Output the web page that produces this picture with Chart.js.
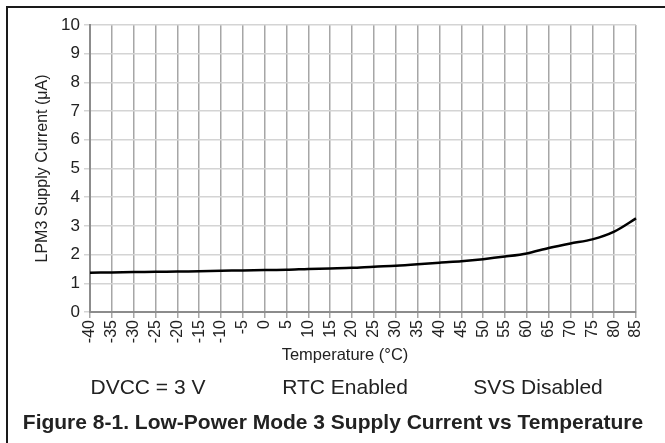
<!DOCTYPE html>
<html>
<head>
<meta charset="utf-8">
<script src="https://cdn.jsdelivr.net/npm/chart.js@4/dist/chart.umd.min.js"></script>
<style>
  html, body { margin: 0; padding: 0; background: #fff; }
  #wrap { position: relative; width: 665px; height: 443px; }
</style>
</head>
<body>
<div id="wrap"><canvas id="c" width="665" height="443"></canvas></div>
<script>
const temps = [-40, -35, -30, -25, -20, -15, -10, -5, 0, 5, 10, 15, 20, 25, 30, 35, 40, 45, 50, 55, 60, 65, 70, 75, 80, 85];
const current = [1.37, 1.38, 1.39, 1.40, 1.41, 1.42, 1.44, 1.45, 1.46, 1.47, 1.50, 1.52, 1.54, 1.58, 1.61, 1.66, 1.72, 1.77, 1.84, 1.93, 2.04, 2.23, 2.39, 2.53, 2.80, 3.26];
const conditions = ["DVCC = 3 V", "RTC Enabled", "SVS Disabled"];
const conditionX = [148, 345, 538];
const xTitle = "Temperature (°C)";
const yTitle = "LPM3 Supply Current (μA)";
const caption = "Figure 8-1. Low-Power Mode 3 Supply Current vs Temperature";

const fontFamily = "'Liberation Sans', Arial, sans-serif";
const textColor = "#222";

const decor = {
  id: "decor",
  afterDraw(chart) {
    const ctx = chart.ctx;
    const area = chart.chartArea;
    ctx.save();
    // frame lines
    ctx.strokeStyle = "#1a1a1a";
    ctx.lineWidth = 2;
    ctx.beginPath();
    ctx.moveTo(7, 443);
    ctx.lineTo(7, 7);
    ctx.lineTo(665, 7);
    ctx.stroke();

    ctx.fillStyle = textColor;
    ctx.textBaseline = "middle";
    ctx.textAlign = "center";

    ctx.font = "16.5px " + fontFamily;
    ctx.fillText(xTitle, 345, 355);

    ctx.font = "21px " + fontFamily;
    conditions.forEach((t, i) => ctx.fillText(t, conditionX[i], 388));

    ctx.font = "bold 21px " + fontFamily;
    ctx.fillText(caption, 333, 423);

    ctx.translate(43, (area.top + area.bottom) / 2);
    ctx.rotate(-Math.PI / 2);
    ctx.font = "16px " + fontFamily;
    ctx.fillText(yTitle, 0, 0);
    ctx.restore();
  },
};

new Chart(document.getElementById("c"), {
  type: "line",
  data: {
    labels: temps,
    datasets: [{
      data: current,
      borderColor: "#000",
      borderWidth: 2.5,
      pointRadius: 0,
      tension: 0.3,
      fill: false,
    }],
  },
  options: {
    responsive: false,
    animation: false,
    layout: { padding: { left: 0, right: 29, top: 25, bottom: 0 } },
    plugins: { legend: { display: false }, tooltip: { enabled: false } },
    scales: {
      x: {
        type: "category",
        offset: false,
        afterFit: (s) => { s.height = 131; },
        grid: { color: "#a6a6a6", lineWidth: 1.5, tickLength: 6, offset: false },
        border: { color: "#8c8c8c", width: 2 },
        ticks: {
          color: textColor,
          font: { family: fontFamily, size: 16 },
          minRotation: 90,
          maxRotation: 90,
          autoSkip: false,
          padding: 2,
        },
      },
      y: {
        min: 0,
        max: 10,
        afterFit: (s) => { s.width = 90; },
        grid: { color: "#d4d4d4", lineWidth: 1.5, tickLength: 6 },
        border: { color: "#8c8c8c", width: 2 },
        ticks: {
          stepSize: 1,
          color: textColor,
          font: { family: fontFamily, size: 17 },
          padding: 4,
        },
      },
    },
  },
  plugins: [decor],
});
</script>
</body>
</html>
